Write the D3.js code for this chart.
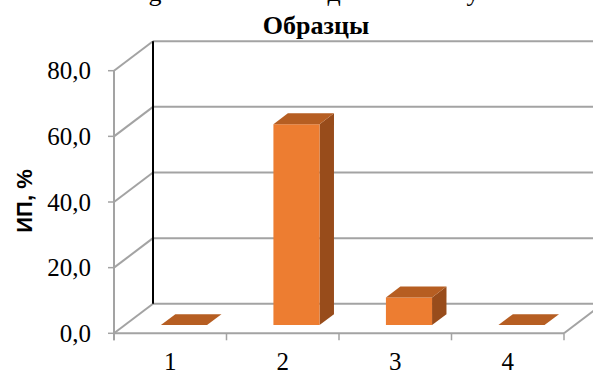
<!DOCTYPE html>
<html>
<head>
<meta charset="utf-8">
<script src="https://cdn.jsdelivr.net/npm/d3@7"></script>
<style>
  html, body { margin: 0; padding: 0; background: #fff; }
  svg { display: block; }
</style>
</head>
<body>
<svg id="chart" width="593" height="372"></svg>
<script>
// ---- data ----
const categories = ["1", "2", "3", "4"];
const values = [0, 61.2, 8.4, 0];
const yTicks = [0, 20, 40, 60, 80];
const chartTitle = "Образцы";
const yTitle = "ИП, %";
// fragments of a clipped line above the title (only descenders visible)
const clippedFragments = [{ t: "g", x: 155 }, { t: "д", x: 334 }, { t: "у", x: 473 }];

// ---- layout ----
const W = 593, H = 372;
const SERIF = '"Liberation Serif"';
const SANS = '"Liberation Sans"';
const svg = d3.select("#chart");
const x = d3.scaleBand().domain(categories).range([114, 564]).paddingInner(0).paddingOuter(0);
const y = d3.scaleLinear().domain([0, 80]).range([333.3, 70.7]);
const DX = 39, DY = -29.5;           // full depth offset
const P = (px, py, z) => [px + z * DX, py + z * DY];
const gridColor = "#a3a3a3";
const fmt = v => d3.format(".1f")(v).replace(".", ",");

const g = svg.append("g");

// back wall gridlines, side wall diagonals, tick marks
yTicks.forEach(v => {
  const a = P(x.range()[0], y(v), 1);
  g.append("line").attr("x1", a[0]).attr("y1", a[1]).attr("x2", W + 60).attr("y2", a[1])
    .attr("stroke", gridColor).attr("stroke-width", 2);
  g.append("line").attr("x1", x.range()[0]).attr("y1", y(v)).attr("x2", a[0]).attr("y2", a[1])
    .attr("stroke", gridColor).attr("stroke-width", 2);
  g.append("line").attr("x1", x.range()[0] - 6).attr("y1", y(v)).attr("x2", x.range()[0]).attr("y2", y(v))
    .attr("stroke", gridColor).attr("stroke-width", 1.5);
});

// side wall front edge
g.append("line").attr("x1", x.range()[0]).attr("x2", x.range()[0])
  .attr("y1", y(0) + 7).attr("y2", y(80)).attr("stroke", gridColor).attr("stroke-width", 2);

// back wall left edge (black)
{
  const a = P(x.range()[0], y(0), 1), b = P(x.range()[0], y(80), 1);
  g.append("line").attr("x1", a[0]).attr("y1", a[1]).attr("x2", b[0]).attr("y2", b[1])
    .attr("stroke", "#000").attr("stroke-width", 2);
}

// floor front edge + right diagonal + category ticks
{
  const r = x.range()[1];
  g.append("line").attr("x1", x.range()[0]).attr("y1", y(0)).attr("x2", r).attr("y2", y(0))
    .attr("stroke", gridColor).attr("stroke-width", 2);
  const b = P(r, y(0), 1);
  g.append("line").attr("x1", r).attr("y1", y(0)).attr("x2", b[0]).attr("y2", b[1])
    .attr("stroke", gridColor).attr("stroke-width", 2);
  categories.forEach(c => {
    g.append("line").attr("x1", x(c)).attr("x2", x(c)).attr("y1", y(0)).attr("y2", y(0) + 7)
      .attr("stroke", gridColor).attr("stroke-width", 1.5);
  });
  g.append("line").attr("x1", r).attr("x2", r).attr("y1", y(0)).attr("y2", y(0) + 7)
    .attr("stroke", gridColor).attr("stroke-width", 1.5);
}

// bars
const z0 = 0.28, dz = 0.37;
const bw = x.bandwidth() * 0.41, boff = x.bandwidth() * 0.32;
const frontColor = "#ED7D31", topColor = "#B65E22", sideColor = "#984C1B";
categories.forEach((c, i) => {
  const x0 = x(c) + boff, x1 = x0 + bw;
  const yb = y(0), yt = y(values[i]);
  const f = (px, py, z) => P(px, py, z).join(",");
  const bg = g.append("g");
  bg.append("polygon").attr("points", [f(x1, yt, z0), f(x1, yt, z0 + dz), f(x1, yb, z0 + dz), f(x1, yb, z0)].join(" "))
    .attr("fill", sideColor);
  bg.append("polygon").attr("points", [f(x0, yt, z0), f(x1, yt, z0), f(x1, yb, z0), f(x0, yb, z0)].join(" "))
    .attr("fill", frontColor);
  bg.append("polygon").attr("points", [f(x0, yt, z0), f(x1, yt, z0), f(x1, yt, z0 + dz), f(x0, yt, z0 + dz)].join(" "))
    .attr("fill", topColor);
});

// y tick labels
yTicks.forEach(v => {
  svg.append("text").attr("x", 91).attr("y", y(v)).attr("dy", "0.34em")
    .attr("text-anchor", "end").style("font-family", SERIF).style("font-size", "25px")
    .attr("fill", "#000").text(fmt(v));
});

// x labels
categories.forEach(c => {
  svg.append("text").attr("x", x(c) + x.bandwidth() / 2).attr("y", 370)
    .attr("text-anchor", "middle").style("font-family", SERIF).style("font-size", "25px")
    .attr("fill", "#000").text(c);
});

// y title
svg.append("text").attr("transform", "translate(32,201) rotate(-90)")
  .attr("text-anchor", "middle").style("font-family", SANS).style("font-weight", "bold")
  .style("font-size", "22px").attr("fill", "#000").text(yTitle);

// chart title
svg.append("text").attr("x", 316).attr("y", 34).attr("text-anchor", "middle")
  .style("font-family", SERIF).style("font-weight", "bold").style("font-size", "26px")
  .attr("fill", "#000").text(chartTitle);

// clipped upper line
clippedFragments.forEach(d => {
  svg.append("text").attr("x", d.x).attr("y", 0.5).attr("text-anchor", "middle")
    .style("font-family", SERIF).style("font-size", "26px").attr("fill", "#000").text(d.t);
});
</script>
</body>
</html>
